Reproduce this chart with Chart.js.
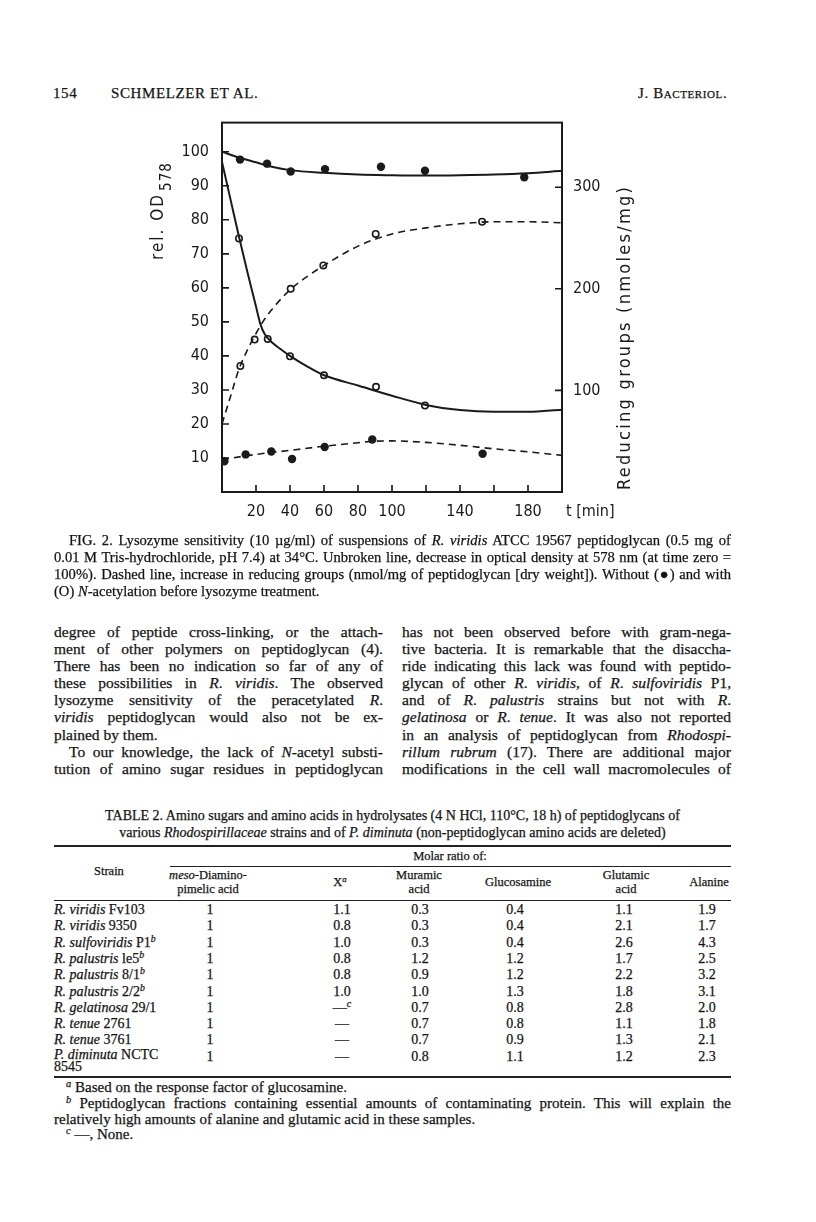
<!DOCTYPE html>
<html>
<head>
<meta charset="utf-8">
<title>Fig. 2 - Lysozyme sensitivity</title>
<script src="https://cdn.jsdelivr.net/npm/chart.js@4.4.0/dist/chart.umd.min.js"></script>
<style>
  body { margin: 0; background: #fff; }
  #page { position: relative; width: 816px; height: 1222px; overflow: hidden;
          font-family: "Liberation Serif", "Times New Roman", serif; color: #141414;
          -webkit-text-stroke: 0.25px #141414; }
  sup { font-size: 0.7em; line-height: 0; position: relative; top: -0.5em; vertical-align: baseline; }
  .abs { position: absolute; white-space: nowrap; }
  .hdr { font-size: 15px; line-height: 16px; top: 85px; letter-spacing: .6px; }
  .cap { position: absolute; left: 54px; top: 532px; width: 677px; font-size: 14.6px; line-height: 17px; }
  .col { position: absolute; top: 623px; width: 329px; font-size: 15.5px; line-height: 17.1px; }
  .j { text-align: justify; text-align-last: justify; }
  .ttl { position: absolute; left: 54px; width: 677px; top: 807px; font-size: 14px; line-height: 17px; text-align: center; }
  .rule { position: absolute; background: #222; }
  .th { position: absolute; font-size: 12.5px; line-height: 14px; text-align: center; transform: translateX(-50%); white-space: nowrap; }
  .cell { position: absolute; font-size: 14px; line-height: 16px; transform: translateX(-50%); white-space: nowrap; }
  .strain { position: absolute; left: 54px; font-size: 14px; line-height: 16px; white-space: nowrap; }
  .fn { position: absolute; left: 54px; width: 677px; font-size: 15px; line-height: 15.5px; }
  #myChart { position: absolute; left: 100px; top: 100px; }
</style>
</head>
<body>
<div id="page">

<div class="abs hdr" style="left:53px">154</div>
<div class="abs hdr" style="left:111px">SCHMELZER ET AL.</div>
<div class="abs hdr" style="left:638px;font-variant:small-caps">J. Bacteriol.</div>

<canvas id="myChart" width="600" height="440"></canvas>

<div class="cap">
  <div class="j" style="text-indent:15px">FIG. 2. Lysozyme sensitivity (10 µg/ml) of suspensions of <i>R. viridis</i> ATCC 19567 peptidoglycan (0.5 mg of</div>
  <div class="j">0.01 M Tris-hydrochloride, pH 7.4) at 34°C. Unbroken line, decrease in optical density at 578 nm (at time zero =</div>
  <div class="j">100%). Dashed line, increase in reducing groups (nmol/mg of peptidoglycan [dry weight]). Without (●) and with</div>
  <div>(O) <i>N</i>-acetylation before lysozyme treatment.</div>
</div>

<div class="col" style="left:54px">
  <div class="j">degree of peptide cross-linking, or the attach-</div>
  <div class="j">ment of other polymers on peptidoglycan (4).</div>
  <div class="j">There has been no indication so far of any of</div>
  <div class="j">these possibilities in <i>R</i>. <i>viridis</i>. The observed</div>
  <div class="j">lysozyme sensitivity of the peracetylated <i>R</i>.</div>
  <div class="j"><i>viridis</i> peptidoglycan would also not be ex-</div>
  <div>plained by them.</div>
  <div class="j" style="text-indent:15px">To our knowledge, the lack of <i>N</i>-acetyl substi-</div>
  <div class="j">tution of amino sugar residues in peptidoglycan</div>
</div>

<div class="col" style="left:402px">
  <div class="j">has not been observed before with gram-nega-</div>
  <div class="j">tive bacteria. It is remarkable that the disaccha-</div>
  <div class="j">ride indicating this lack was found with peptido-</div>
  <div class="j">glycan of other <i>R</i>. <i>viridis</i>, of <i>R</i>. <i>sulfoviridis</i> P1,</div>
  <div class="j">and of <i>R</i>. <i>palustris</i> strains but not with <i>R</i>.</div>
  <div class="j"><i>gelatinosa</i> or <i>R</i>. <i>tenue</i>. It was also not reported</div>
  <div class="j">in an analysis of peptidoglycan from <i>Rhodospi-</i></div>
  <div class="j"><i>rillum rubrum</i> (17). There are additional major</div>
  <div class="j">modifications in the cell wall macromolecules of</div>
</div>

<div class="ttl">
  <div>TABLE 2. Amino sugars and amino acids in hydrolysates (4 N HCl, 110°C, 18 h) of peptidoglycans of</div>
  <div>various <i>Rhodospirillaceae</i> strains and of <i>P. diminuta</i> (non-peptidoglycan amino acids are deleted)</div>
</div>

<div class="rule" style="left:54px;width:677px;top:845px;height:2px"></div>
<div class="th" style="left:450px;top:849px">Molar ratio of:</div>
<div class="rule" style="left:170px;width:561px;top:866px;height:1px"></div>
<div class="th" style="left:94px;top:864px;transform:none">Strain</div>
<div class="th" style="left:208px;top:868px"><i>meso</i>-Diamino-<br>pimelic acid</div>
<div class="th" style="left:340px;top:875px">X<sup><i>a</i></sup></div>
<div class="th" style="left:419px;top:868px">Muramic<br>acid</div>
<div class="th" style="left:518px;top:875px">Glucosamine</div>
<div class="th" style="left:626px;top:868px">Glutamic<br>acid</div>
<div class="th" style="left:709px;top:875px">Alanine</div>
<div class="rule" style="left:54px;width:677px;top:900px;height:1px"></div>
<div id="rows"></div>
<div class="rule" style="left:54px;width:677px;top:1076px;height:2px"></div>

<div class="fn" style="top:1080px;text-indent:12px"><sup><i>a</i></sup> Based on the response factor of glucosamine.</div>
<div class="fn j" style="top:1096px;text-indent:12px"><sup><i>b</i></sup> Peptidoglycan fractions containing essential amounts of contaminating protein. This will explain the</div>
<div class="fn" style="top:1111.5px">relatively high amounts of alanine and glutamic acid in these samples.</div>
<div class="fn" style="top:1127px;text-indent:12px"><sup><i>c</i></sup> —, None.</div>

</div>

<script>
// --- Fig. 2 data ---
// time axis (min)
const xTickMarks = [20, 40, 60, 80, 100, 120, 140, 160, 180];
const xTickLabels = ['20', '40', '60', '80', '100', '', '140', '', '180'];
const odTicks = [10, 20, 30, 40, 50, 60, 70, 80, 90, 100];
const redTicks = [100, 200, 300];

// rel. OD578, without N-acetylation (filled dots)
const odPlainT = [10.6, 26.5, 40.4, 60.6, 93.5, 119.4, 177.8];
const odPlain = [97.7, 96.5, 94.2, 94.9, 95.6, 94.4, 92.5];
const odPlainCurveT = [0, 10, 20, 30, 40, 60, 80, 100, 120, 140, 160, 180, 200];
const odPlainCurve = [100, 98.3, 96.9, 95.5, 94.6, 93.8, 93.3, 93.1, 93.0, 93.1, 93.3, 93.7, 94.4];

// rel. OD578, with N-acetylation (open dots)
const odAcT = [10, 26.9, 40, 60, 90.6, 119.4];
const odAc = [74.5, 45.0, 39.9, 34.3, 30.9, 25.4];
const odAcCurveT = [0, 5, 10, 15, 20, 22.5, 25, 30, 35, 40, 50, 60, 80, 100, 120, 140, 160, 180, 200];
const odAcCurve = [97, 86, 75, 64.5, 54.5, 49.5, 46.5, 43.7, 41.8, 40, 36.9, 34.3, 31.3, 28.3, 25.6, 24.1, 23.6, 23.6, 24.2];

// reducing groups (nmoles/mg), with N-acetylation (open dots)
const redAcT = [10.8, 19.2, 40.4, 59.6, 90.4, 153];
const redAc = [124, 150, 200, 223, 254, 266];
const redAcCurveT = [0, 5, 10, 15, 20, 25, 30, 40, 50, 60, 80, 100, 120, 140, 160, 180, 200];
const redAcCurve = [67, 94, 121, 140, 156, 170, 181, 199, 212, 223, 242, 254, 260, 264, 266, 266, 265];

// reducing groups (nmoles/mg), without N-acetylation (filled dots)
const redPlainT = [1.4, 13.9, 29, 41.2, 60.4, 88.4, 153.3];
const redPlain = [30.3, 37, 39.9, 32.5, 44.3, 51.7, 37.6];
const redPlainCurveT = [0, 20, 40, 60, 80, 90, 100, 120, 140, 160, 180, 200];
const redPlainCurve = [32, 37, 41, 45, 48.5, 50, 50.3, 48.8, 46, 42.5, 39.5, 36];

// --- Table 2 ---
const strains = ['<i>R. viridis</i> Fv103', '<i>R. viridis</i> 9350', '<i>R. sulfoviridis</i> P1<sup><i>b</i></sup>',
  '<i>R. palustris</i> le5<sup><i>b</i></sup>', '<i>R. palustris</i> 8/1<sup><i>b</i></sup>', '<i>R. palustris</i> 2/2<sup><i>b</i></sup>',
  '<i>R. gelatinosa</i> 29/1', '<i>R. tenue</i> 2761', '<i>R. tenue</i> 3761', '<i>P. diminuta</i> NCTC<br>8545'];
const dap = ['1', '1', '1', '1', '1', '1', '1', '1', '1', '1'];
const xCol = ['1.1', '0.8', '1.0', '0.8', '0.8', '1.0', '—<sup><i>c</i></sup>', '—', '—', '—'];
const muramic = ['0.3', '0.3', '0.3', '1.2', '0.9', '1.0', '0.7', '0.7', '0.7', '0.8'];
const glucosamine = ['0.4', '0.4', '0.4', '1.2', '1.2', '1.3', '0.8', '0.8', '0.9', '1.1'];
const glutamic = ['1.1', '2.1', '2.6', '1.7', '2.2', '1.8', '2.8', '1.1', '1.3', '1.2'];
const alanine = ['1.9', '1.7', '4.3', '2.5', '3.2', '3.1', '2.0', '1.8', '2.1', '2.3'];

let rowsHtml = '';
const colX = [210, 342, 420, 515, 624, 707];
strains.forEach((s, i) => {
  const top = 902 + i * 16.3;
  rowsHtml += `<div class="strain" style="top:${top}px;line-height:${i === 9 ? 12 : 16}px">${s}</div>`;
  [dap, xCol, muramic, glucosamine, glutamic, alanine].forEach((col, k) => {
    rowsHtml += `<div class="cell" style="left:${colX[k]}px;top:${top}px">${col[i]}</div>`;
  });
});
document.getElementById('rows').innerHTML = rowsHtml;

// --- chart ---
const ink = '#1a1a1a';
const fontFam = '"DejaVu Sans Condensed", "DejaVu Sans", sans-serif';
const tickFont = { family: fontFam, size: 16 };
const pts = (xs, ys) => xs.map((x, i) => ({ x: x, y: ys[i] }));

const framePlugin = {
  id: 'framePlugin',
  afterDraw(chart) {
    const c = chart.ctx;
    const a = chart.chartArea;
    const x = chart.scales.x, yL = chart.scales.y, yR = chart.scales.yR;
    c.save();
    c.strokeStyle = ink;
    c.lineWidth = 2;
    c.strokeRect(a.left, a.top, a.right - a.left, a.bottom - a.top);
    c.lineWidth = 1.6;
    c.beginPath();
    xTickMarks.forEach(v => { const p = x.getPixelForValue(v); c.moveTo(p, a.bottom); c.lineTo(p, a.bottom - 7); });
    odTicks.forEach(v => { const p = yL.getPixelForValue(v); c.moveTo(a.left, p); c.lineTo(a.left + 7, p); });
    redTicks.forEach(v => { const p = yR.getPixelForValue(v); c.moveTo(a.right, p); c.lineTo(a.right - 7, p); });
    c.stroke();

    c.fillStyle = ink;
    c.font = '16px ' + fontFam;
    c.textBaseline = 'middle';
    c.textAlign = 'left';
    c.fillText('t [min]', a.right + 4, a.bottom + 19.5);

    // left title: rel. OD578
    c.translate(63, 160);
    c.rotate(-Math.PI / 2);
    c.textBaseline = 'alphabetic';
    c.font = '17px ' + fontFam;
    c.letterSpacing = '2px';
    c.fillText('rel. OD', 0, 0);
    const w = c.measureText('rel. OD').width;
    c.font = '15px ' + fontFam;
    c.letterSpacing = '1px';
    c.fillText('578', w + 2, 8);
    c.restore();

    // right title
    c.save();
    c.fillStyle = ink;
    c.translate(530, 390);
    c.rotate(-Math.PI / 2);
    const t = 'Reducing groups (nmoles/mg)';
    c.font = '18px ' + fontFam;
    c.letterSpacing = '0px';
    const nat = c.measureText(t).width;
    c.letterSpacing = ((303 - nat) / (t.length - 1)).toFixed(2) + 'px';
    c.textAlign = 'left';
    c.textBaseline = 'alphabetic';
    c.fillText(t, 0, 0);
    c.restore();
  }
};

const ctx = document.getElementById('myChart').getContext('2d');
const myChart = new Chart(ctx, {
  type: 'scatter',
  data: {
    datasets: [
      { label: 'OD fit, without', data: pts(odPlainCurveT, odPlainCurve), yAxisID: 'y', showLine: true,
        pointRadius: 0, borderColor: ink, borderWidth: 2, cubicInterpolationMode: 'monotone' },
      { label: 'OD fit, with', data: pts(odAcCurveT, odAcCurve), yAxisID: 'y', showLine: true,
        pointRadius: 0, borderColor: ink, borderWidth: 2, cubicInterpolationMode: 'monotone' },
      { label: 'Reducing fit, with', data: pts(redAcCurveT, redAcCurve), yAxisID: 'yR', showLine: true,
        pointRadius: 0, borderColor: ink, borderWidth: 1.6, borderDash: [7, 5], cubicInterpolationMode: 'monotone' },
      { label: 'Reducing fit, without', data: pts(redPlainCurveT, redPlainCurve), yAxisID: 'yR', showLine: true,
        pointRadius: 0, borderColor: ink, borderWidth: 1.6, borderDash: [7, 5], cubicInterpolationMode: 'monotone' },
      { label: 'OD without', data: pts(odPlainT, odPlain), yAxisID: 'y',
        pointRadius: 4.2, backgroundColor: ink, borderWidth: 0 },
      { label: 'OD with', data: pts(odAcT, odAc), yAxisID: 'y',
        pointRadius: 3.2, backgroundColor: '#fff', borderColor: ink, borderWidth: 1.6 },
      { label: 'Reducing with', data: pts(redAcT, redAc), yAxisID: 'yR',
        pointRadius: 3.2, backgroundColor: '#fff', borderColor: ink, borderWidth: 1.6 },
      { label: 'Reducing without', data: pts(redPlainT, redPlain), yAxisID: 'yR',
        pointRadius: 4.2, backgroundColor: ink, borderWidth: 0 }
    ]
  },
  options: {
    responsive: false,
    animation: false,
    devicePixelRatio: 1,
    layout: { padding: { top: 12, left: 0, right: 0, bottom: 0 } },
    plugins: { legend: { display: false }, tooltip: { enabled: false } },
    scales: {
      x: {
        type: 'linear', position: 'bottom', min: 0, max: 200,
        grid: { display: false, drawTicks: false }, border: { display: false },
        afterBuildTicks: s => { s.ticks = xTickMarks.map(v => ({ value: v })); },
        afterFit: s => { s.height = 48; },
        ticks: { font: tickFont, color: ink, padding: 10, maxRotation: 0, autoSkip: false,
          callback: v => xTickLabels[xTickMarks.indexOf(v)] }
      },
      y: {
        type: 'linear', position: 'left', min: 0, max: 108.57,
        grid: { display: false, drawTicks: false }, border: { display: false },
        afterBuildTicks: s => { s.ticks = odTicks.map(v => ({ value: v })); },
        afterFit: s => { s.width = 122; },
        ticks: { font: tickFont, color: ink, padding: 13 }
      },
      yR: {
        type: 'linear', position: 'right', min: 0, max: 363.6,
        grid: { display: false, drawTicks: false }, border: { display: false },
        afterBuildTicks: s => { s.ticks = redTicks.map(v => ({ value: v })); },
        afterFit: s => { s.width = 138; },
        ticks: { font: tickFont, color: ink, padding: 11 }
      }
    }
  },
  plugins: [framePlugin]
});
</script>
</body>
</html>
